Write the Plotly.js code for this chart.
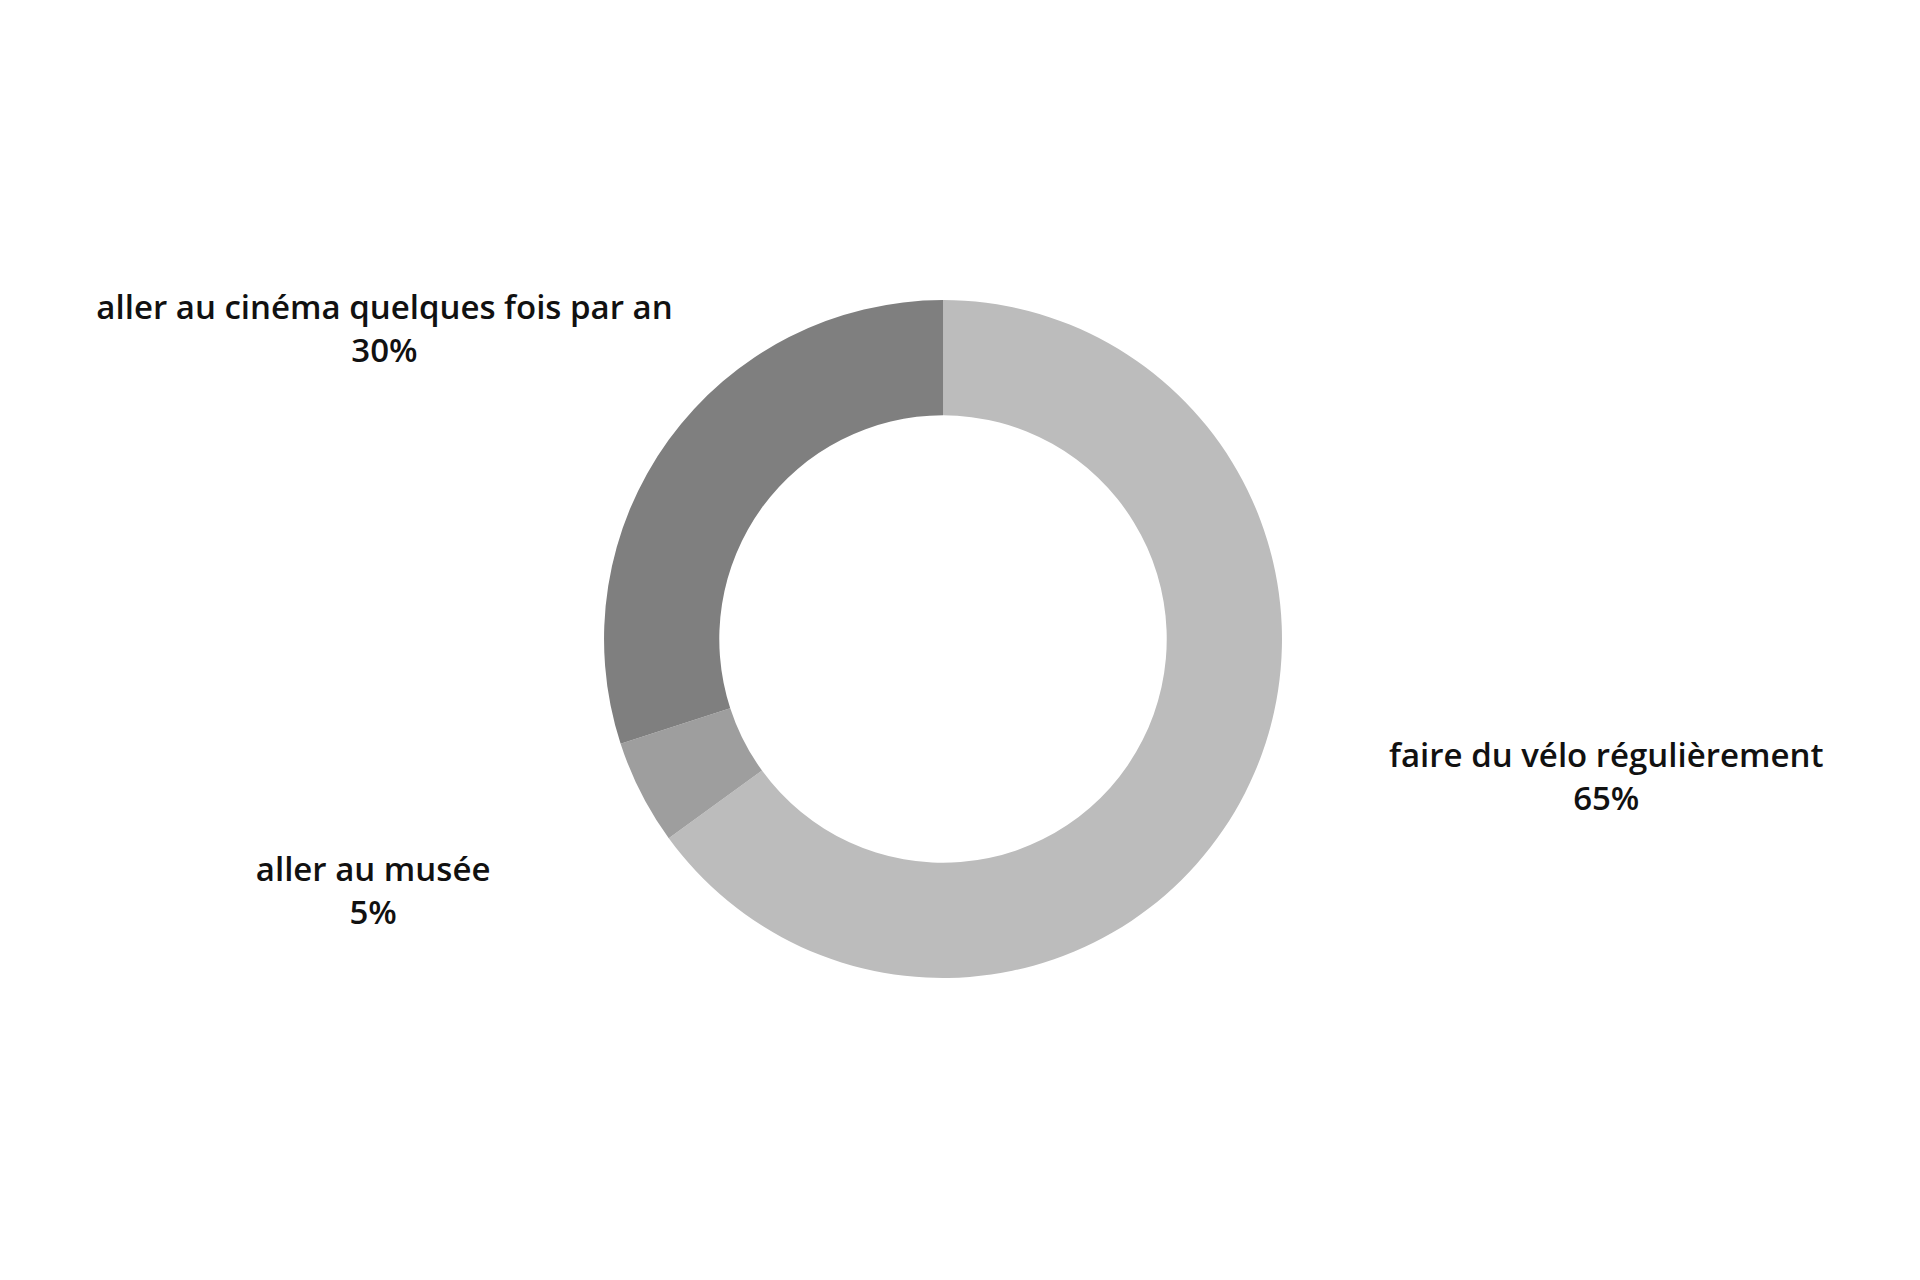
<!DOCTYPE html>
<html>
<head>
<meta charset="utf-8">
<script src="https://cdn.plot.ly/plotly-3.0.1.min.js"></script>
<style>
  html, body { margin: 0; padding: 0; background: #ffffff; }
  #chart { width: 1920px; height: 1280px; }
</style>
</head>
<body>
<div id="chart"></div>
<script>
var activites = ['faire du vélo régulièrement', 'aller au musée', 'aller au cinéma quelques fois par an'];
var parts = [65, 5, 30];
var couleurs = ['#bcbcbc', '#9e9e9e', '#7f7f7f'];

var labelFont = { family: 'Open Sans, sans-serif', size: 33, color: '#111111', weight: 600 };
var transparent = ['rgba(0,0,0,0)', 'rgba(0,0,0,0)', 'rgba(0,0,0,0)'];

// the ring itself
var anneau = {
    type: 'pie',
    labels: activites,
    values: parts,
    sort: false,
    direction: 'clockwise',
    rotation: 0,
    hole: 0.66,
    textinfo: 'none',
    hoverinfo: 'label+percent',
    marker: { colors: couleurs, line: { width: 0 } },
    domain: { x: [0.3146, 0.6677], y: [0.2359, 0.7656] }
};

// invisible copy of the same slices, showing the outside label of one slice only,
// so each label can sit at its own distance / angle like in the original
function labelTrace(idx, rot, dom) {
    var pos = activites.map(function (a, i) { return i === idx ? 'outside' : 'none'; });
    return {
        type: 'pie',
        labels: activites,
        values: parts,
        sort: false,
        direction: 'clockwise',
        rotation: rot,
        textinfo: 'label+percent',
        textposition: pos,
        hoverinfo: 'skip',
        marker: { colors: transparent, line: { width: 0 } },
        textfont: labelFont,
        outsidetextfont: labelFont,
        domain: dom
    };
}

var etiquetteVelo = labelTrace(0, -9.6, { x: [0.2597, 0.7226], y: [0.1536, 0.8480] });
var etiquetteMusee = labelTrace(1, -2.2, { x: [0.2342, 0.7481], y: [0.1154, 0.8862] });
var etiquetteCinema = labelTrace(2, 13, { x: [0.2939, 0.6884], y: [0.2049, 0.7966] });

var layout = {
    width: 1920,
    height: 1280,
    showlegend: false,
    paper_bgcolor: '#ffffff',
    plot_bgcolor: '#ffffff',
    margin: { l: 0, r: 0, t: 0, b: 0 },
    font: { family: 'Open Sans, sans-serif' }
};

Plotly.newPlot('chart', [anneau, etiquetteVelo, etiquetteMusee, etiquetteCinema], layout, { displayModeBar: false, staticPlot: true });
</script>
</body>
</html>
